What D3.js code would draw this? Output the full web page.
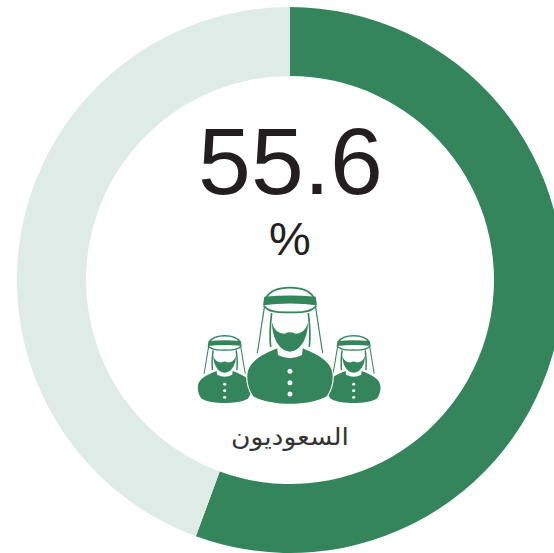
<!DOCTYPE html>
<html><head><meta charset="utf-8">
<script src="https://cdn.jsdelivr.net/npm/d3@7"></script>
<style>html,body{margin:0;padding:0;background:#fff;overflow:hidden}svg{display:block}</style>
</head><body><div id="chart"></div>
<script>
const segments = ["السعوديون", "غير السعوديين"];
const values = [55.6, 44.4];
const colors = ["#35855c", "#deebe7"];
const valueLabel = "55.6";
const unitLabel = "%";
const categoryLabel = "السعوديون";

const W = 554, H = 553, cx = 290, cy = 280, R = 273, r = 204;
const green = colors[0], ink = "#231f20";

const svg = d3.select("#chart").append("svg").attr("width", W).attr("height", H);
const pie = d3.pie().sort(null).value(d => d);
const arc = d3.arc().innerRadius(r).outerRadius(R);
const g = svg.append("g").attr("transform", `translate(${cx},${cy})`);
g.selectAll("path").data(pie(values)).join("path").attr("d", arc).attr("fill", (d, i) => colors[i]);

g.append("text").attr("x", 0.5).attr("y", -86).attr("text-anchor", "middle")
  .attr("font-family", "'Liberation Sans',Arial,sans-serif").attr("font-size", 95).attr("fill", ink).text(valueLabel);
g.append("text").attr("x", 0).attr("y", -25).attr("text-anchor", "middle")
  .attr("font-family", "'Liberation Sans',Arial,sans-serif").attr("font-size", 47).attr("fill", ink).text(unitLabel);
g.append("text").attr("x", 0).attr("y", 165).attr("text-anchor", "middle").attr("direction", "rtl")
  .attr("font-family", "'DejaVu Sans',sans-serif").attr("font-size", 24)
  .attr("textLength", 118).attr("lengthAdjust", "spacingAndGlyphs").attr("fill", "#333").text(categoryLabel);

function person(sel, tx, ty, kx, ky, w) {
  const p = sel.append("g").attr("transform", `translate(${tx},${ty}) scale(${kx},${ky})`);
  p.append("path").attr("fill", green).attr("stroke", "#fff").attr("stroke-width", 7).attr("paint-order", "stroke")
    .attr("d", "M-128,268 C-128,228 -92,206 -38,184 L-36,204 Q0,224 36,204 L38,184 C92,206 128,228 128,268 C128,294 120,314 110,328 C60,358 -60,358 -110,328 C-120,314 -128,294 -128,268Z");
  p.append("path").attr("fill", "none").attr("stroke", green).attr("stroke-width", 5 * w)
    .attr("d", "M-73,34 C-60,10 -30,2 0,2 C30,2 60,10 73,34");
  p.append("path").attr("fill", green)
    .attr("d", "M-77,29 Q0,22 77,29 L81,55 Q0,44 -81,55Z");
  p.append("path").attr("fill", "none").attr("stroke", green).attr("stroke-width", 3.5 * w)
    .attr("d", "M-76,56 C-84,105 -90,150 -98,198 M76,56 C84,105 90,150 98,198");
  p.append("path").attr("fill", "none").attr("stroke", green).attr("stroke-width", 5 * w)
    .attr("d", "M-79,56 C-65,74 -40,78 0,76 C40,78 65,74 79,56 M-55,78 C-59,110 -62,145 -58,180 M55,78 C59,110 62,145 58,180");
  p.append("path").attr("fill", green)
    .attr("d", "M-54,106 C-54,150 -34,192 0,194 C34,192 54,150 54,106 C48,130 34,140 16,140 Q0,132 -16,140 C-34,140 -48,130 -54,106Z");
  p.selectAll("circle").data([253, 287, 321]).join("circle")
    .attr("cx", 0).attr("cy", d => d).attr("r", 7.5).attr("fill", "#fff");
}
const icons = svg.append("g").attr("transform", "translate(290,287) scale(0.3333)");
person(icons, -196, 145, 0.63, 0.58, 1.4);
person(icons, 191, 145, 0.63, 0.58, 1.4);
person(icons, 0, 0, 1, 1, 1);
</script></body></html>
